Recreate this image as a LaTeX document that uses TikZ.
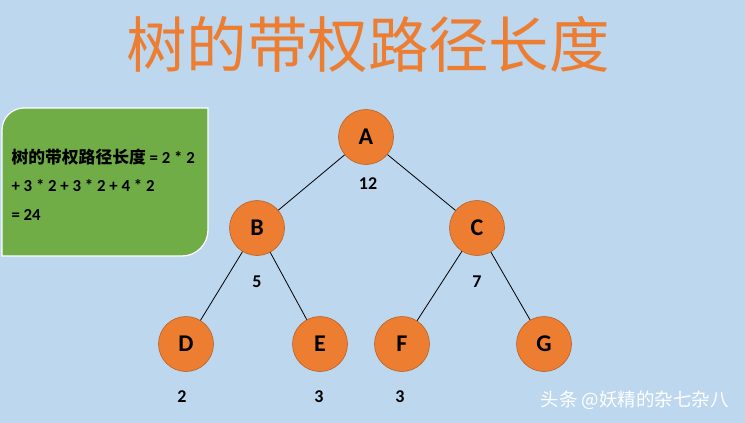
\documentclass[tikz,border=0pt]{standalone}
\usepackage{fontspec}
\setmainfont{Carlito}
\newfontfamily\cjk{Noto Sans CJK SC}
\newfontfamily\cjkb{Noto Sans CJK SC Bold}
\usetikzlibrary{positioning}
\definecolor{bg}{HTML}{BDD7EE}
\definecolor{org}{HTML}{ED7D31}
\definecolor{orgd}{HTML}{B86225}
\definecolor{grn}{HTML}{70AD47}
\tikzset{
  treenode/.style={circle, fill=org, draw=orgd, line width=0.6pt, minimum size=55pt, inner sep=0pt, font=\fontsize{24}{24}\selectfont\bfseries},
  weight/.style={font=\fontsize{18}{18}\selectfont\bfseries},
  edge/.style={draw=black, line width=0.8pt},
  boxtext/.style={anchor=west, font=\fontsize{16.8}{17}\selectfont\bfseries}
}
\begin{document}
\begin{tikzpicture}[x=1pt,y=-1pt]
\fill[bg] (0,0) rectangle (745,423);
\useasboundingbox (0,0) rectangle (745,423);
% title
\node[text=org] (title) at (368,45) {\cjk\fontsize{60.5}{60}\selectfont 树的带权路径长度};
% green box
\draw[fill=grn, draw=white, line width=1.2pt]
  (2,256) -- (2,130) arc[start angle=180, end angle=270, radius=22] -- (208,108) -- (208,230)
  arc[start angle=0, end angle=90, radius=26] -- cycle;
\node[boxtext] (l1) at (8,157) {{\cjkb 树的带权路径长度} = 2 * 2};
\node[boxtext] (l2) at (8,186) {+ 3 * 2 + 3 * 2 + 4 * 2};
\node[boxtext] (l3) at (8,215) {= 24};
% tree
\node[treenode] (A) at (366,137) {A};
\node[treenode] (B) at (257,228) {B};
\node[treenode] (C) at (477,228) {C};
\node[treenode] (D) at (186,344) {D};
\node[treenode] (E) at (320,344) {E};
\node[treenode] (F) at (402,344) {F};
\node[treenode] (G) at (544,344) {G};
\draw[edge] (A) -- (B);
\draw[edge] (A) -- (C);
\draw[edge] (B) -- (D);
\draw[edge] (B) -- (E);
\draw[edge] (C) -- (F);
\draw[edge] (C) -- (G);
\node[weight] (wA) at (368,184) {12};
\node[weight] (wB) at (257,282) {5};
\node[weight] (wC) at (477,282) {7};
\node[weight] (wD) at (182,397) {2};
\node[weight] (wE) at (319,397) {3};
\node[weight] (wF) at (400,397) {3};
% watermark
\node[text=white, anchor=west] (wm) at (537,400) {\cjk\fontsize{18.5}{18.5}\selectfont 头条 @妖精的杂七杂八};
\end{tikzpicture}
\end{document}
